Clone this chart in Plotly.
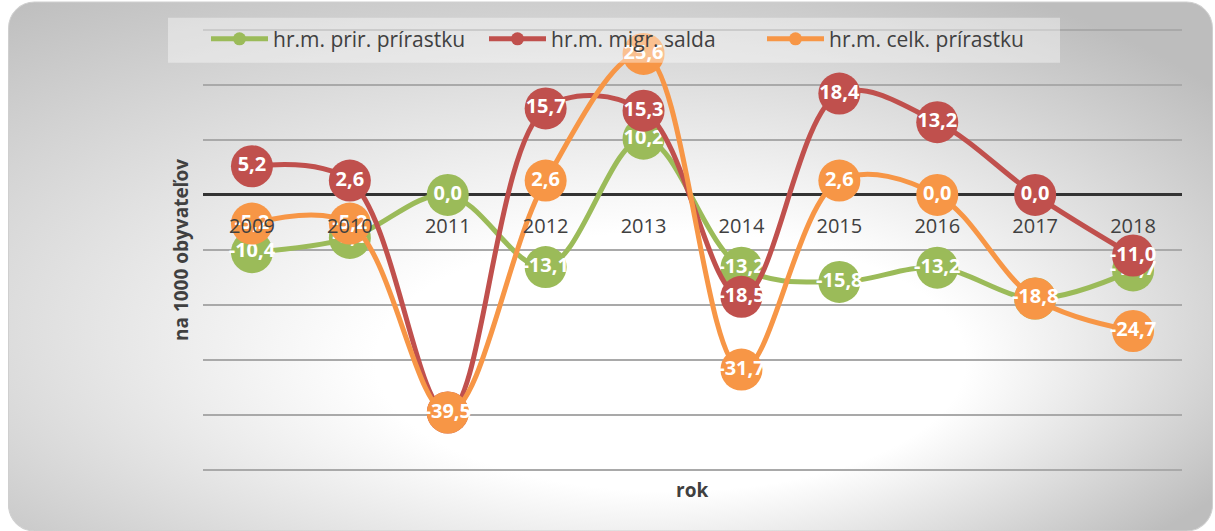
import base64
import plotly.graph_objects as go

years = ["2009", "2010", "2011", "2012", "2013", "2014", "2015", "2016", "2017", "2018"]
prir = [-10.4, -7.8, 0.0, -13.1, 10.2, -13.2, -15.8, -13.2, -18.8, -13.7]
migr = [5.2, 2.6, -39.5, 15.7, 15.3, -18.5, 18.4, 13.2, 0.0, -11.0]
celk = [-5.2, -5.2, -39.5, 2.6, 25.6, -31.7, 2.6, 0.0, -18.8, -24.7]

names = ["hr.m. prir. prírastku", "hr.m. migr. salda", "hr.m. celk. prírastku"]
colors = ["#9BBB59", "#C0504D", "#F79646"]
series = [prir, migr, celk]

W, H = 1215, 531
YMIN, YMAX, PAD = -50, 30, 0.3
SCALE = 5.5  # px per unit
L, R = 203, 33
T = 30 - PAD * SCALE
B = H - (470 + PAD * SCALE)
PW, PH = W - L - R, H - T - B

svg = f'''<svg xmlns="http://www.w3.org/2000/svg" width="{W}" height="{H}" viewBox="0 0 {W} {H}">
<defs><radialGradient id="g" cx="0.42" cy="0.55" r="0.7" fx="0.62" fy="0.75">
<stop offset="0" stop-color="#ffffff"/><stop offset="0.35" stop-color="#ffffff"/>
<stop offset="1" stop-color="#bdbdbd"/></radialGradient></defs>
<rect x="8.5" y="2.5" width="1204" height="528" rx="26" ry="26" fill="url(#g)" stroke="#cfcfcf" stroke-width="1"/>
</svg>'''
src = "data:image/svg+xml;base64," + base64.b64encode(svg.encode()).decode()


def fmt(v):
    return f"{v:.1f}".replace(".", ",")


def px_x(px):
    return (px - L) / PW


def px_y(py):
    return 1 - (py - T) / PH


fig = go.Figure()
for nm, col, vals in zip(names, colors, series):
    fig.add_trace(go.Scatter(
        x=years, y=vals, mode="lines+markers+text", name=nm, showlegend=False,
        line=dict(color=col, width=5, shape="spline", smoothing=1.0),
        marker=dict(color=col, size=42, line=dict(width=0)),
        text=[fmt(v) for v in vals], textposition="middle center",
        textfont=dict(family="Open Sans", size=20, color="white", weight="bold"),
        cliponaxis=False, hoverinfo="skip"))
for nm, col in zip(names, colors):
    fig.add_trace(go.Scatter(
        x=[None], y=[None], mode="lines+markers", name=nm,
        line=dict(color=col, width=5), marker=dict(color=col, size=13)))

fig.update_layout(
    width=W, height=H,
    margin=dict(l=L, r=R, t=T, b=B, autoexpand=False),
    paper_bgcolor="white", plot_bgcolor="rgba(0,0,0,0)",
    font=dict(family="Open Sans", color="#404040"),
    showlegend=True,
    legend=dict(orientation="h", x=px_x(206), xanchor="left",
                y=px_y(19), yanchor="top",
                bgcolor="rgba(0,0,0,0)", font=dict(size=21, color="#404040"),
                itemwidth=57, entrywidth=206, entrywidthmode="pixels"),
    images=[dict(source=src, xref="paper", yref="paper",
                 x=-L / PW, y=1 + T / PH, sizex=W / PW, sizey=H / PH,
                 xanchor="left", yanchor="top", sizing="stretch", layer="below")],
    shapes=[dict(type="rect", xref="paper", yref="paper",
                 x0=px_x(168), x1=px_x(1060), y0=px_y(63), y1=px_y(18),
                 fillcolor="rgba(255,255,255,0.4)", line=dict(width=0), layer="above")],
    xaxis=dict(type="category", anchor="free",
               position=(0 - (YMIN - PAD)) / (YMAX - YMIN + 2 * PAD),
               showgrid=False, showline=False, zeroline=False,
               ticks="outside", ticklen=13, tickcolor="rgba(0,0,0,0)",
               tickfont=dict(size=20, color="#404040"), layer="above traces",
               range=[-0.5, 9.5]),
    yaxis=dict(range=[YMIN - PAD, YMAX + PAD], dtick=10, tick0=0, showticklabels=False,
               showgrid=True, gridcolor="#a9a9a9", gridwidth=1.5,
               zeroline=True, zerolinecolor="#333333", zerolinewidth=3,
               title=dict(text="na 1000 obyvateľov", standoff=8,
                          font=dict(size=19, color="#404040", weight="bold"))),
    annotations=[dict(text="rok", xref="paper", yref="paper", x=px_x(692), y=px_y(490),
                      xanchor="center", yanchor="middle", showarrow=False,
                      font=dict(size=19, color="#404040", weight="bold"))],
)

fig.write_html("out.html", config={"displayModeBar": False},
               post_script="document.body.style.margin='0';")
